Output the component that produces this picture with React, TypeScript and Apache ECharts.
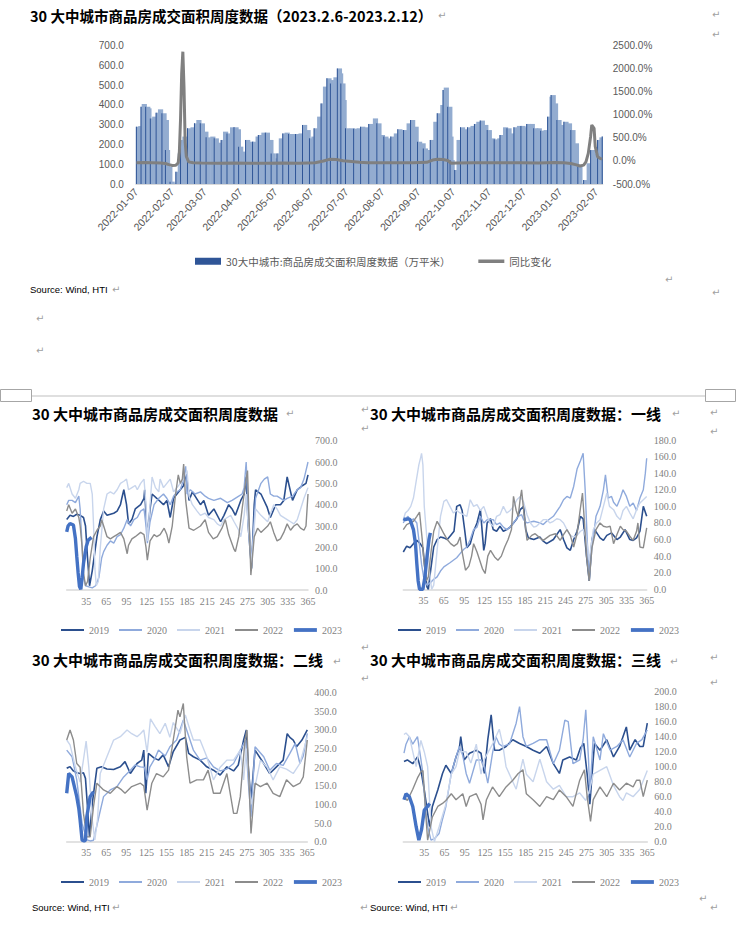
import React, { useEffect, useRef } from 'react';
import * as echarts from 'echarts';

// ---------- top chart data ----------
const START = '2022-01-07';
const END = '2023-02-12';
const BAR_NAME = '30大中城市:商品房成交面积周度数据（万平米）';
const YOY_NAME = '同比变化';
// transaction area (万平米), [days after START, value]
const areaPoints: [number, number][] = [[0,290],[2,293],[4,391],[5,405],[8,391],[9,383],[12,332],[14,341],[17,361],[19,378],[22,358],[24,324],[25,172],[27,88],[29,12],[32,3],[34,62],[36,155],[38,223],[40,240],[44,282],[47,287],[50,307],[52,324],[55,307],[58,265],[60,236],[64,240],[67,231],[70,209],[73,223],[75,265],[78,256],[81,287],[84,287],[86,277],[88,189],[91,164],[94,223],[97,214],[100,214],[103,240],[105,248],[108,260],[111,260],[114,223],[116,155],[118,130],[121,155],[123,231],[126,256],[128,260],[131,253],[134,253],[137,253],[140,256],[143,299],[146,273],[149,231],[151,240],[153,282],[156,341],[159,408],[161,493],[164,535],[166,526],[167,509],[170,540],[173,585],[174,560],[176,509],[177,425],[180,282],[184,282],[187,280],[190,282],[193,290],[196,287],[200,304],[204,332],[207,307],[210,248],[213,240],[216,231],[219,240],[222,256],[225,277],[227,273],[230,273],[233,307],[236,324],[239,290],[242,214],[245,206],[247,180],[250,172],[253,223],[256,315],[259,358],[262,400],[264,476],[265,488],[268,391],[269,240],[270,121],[272,12],[274,71],[276,223],[279,287],[282,277],[285,287],[288,294],[291,304],[293,315],[296,321],[299,299],[302,273],[305,231],[308,226],[311,231],[313,248],[316,287],[319,282],[322,256],[325,287],[328,294],[331,294],[334,287],[336,304],[339,304],[342,282],[345,282],[348,270],[351,273],[354,341],[356,442],[357,450],[359,408],[362,324],[365,299],[368,315],[371,307],[374,273],[377,206],[380,88],[382,3],[385,20],[388,105],[391,172],[394,155],[397,223],[399,236],[401,240]];
// YoY change (%), [days after START, value]
const yoyPoints: [number, number][] = [[0, -40], [7, -35], [14, -40], [21, -45], [25, -55], [28, -80], [31, -100], [34, -95], [36, -40], [37, 200], [38, 900], [39, 1900], [40, 2370], [41, 1600], [42, 400], [43, 100], [45, -20], [49, -40], [56, -45], [70, -50], [84, -45], [98, -50], [112, -50], [126, -45], [140, -50], [154, -40], [161, 0], [166, 35], [172, 30], [178, 5], [185, -10], [192, -30], [199, -40], [210, -40], [224, -38], [238, -40], [250, -30], [255, 20], [259, 35], [264, 30], [268, 10], [271, -50], [276, -45], [290, -40], [304, -40], [318, -38], [332, -40], [346, -42], [360, -35], [368, -40], [374, -55], [378, -80], [382, -110], [385, -90], [387, -20], [389, 165], [391, 527], [392, 780], [394, 708], [395, 310], [397, 92], [399, 57], [401, 40]];

// ---------- small charts ----------
const years = ['2019', '2020', '2021', '2022', '2023'];
const dayTicks = [35, 65, 95, 125, 155, 185, 215, 245, 275, 305, 335, 365];

type P = [number, number][];
// 30 cities total
const A2019: P = [[6,330],[11,350],[16,345],[21,355],[26,350],[31,340],[34,300],[37,150],[40,20],[44,90],[51,250],[56,330],[61,370],[66,350],[71,355],[76,360],[81,370],[86,400],[88,430],[91,470],[95,400],[98,310],[103,330],[108,380],[116,400],[121,430],[122,470],[124,350],[126,250],[130,380],[133,450],[140,430],[150,400],[155,420],[160,340],[165,430],[175,470],[180,490],[184,550],[188,420],[193,460],[197,440],[205,400],[210,420],[217,350],[225,380],[235,320],[240,350],[247,400],[252,380],[257,350],[265,420],[270,450],[273,530],[276,300],[281,100],[285,400],[287,470],[295,450],[304,390],[309,340],[317,400],[324,400],[329,420],[334,530],[342,420],[349,470],[357,490],[362,500],[365,540]];
const A2020: P = [[6,400],[9,420],[14,420],[19,410],[24,440],[26,380],[29,200],[31,60],[34,20],[39,15],[44,10],[49,20],[54,60],[58,150],[61,180],[66,210],[71,230],[76,220],[81,250],[86,260],[91,290],[96,330],[101,300],[106,330],[111,340],[116,370],[121,380],[124,300],[126,220],[130,320],[136,400],[143,430],[150,450],[155,430],[160,400],[165,440],[170,460],[175,470],[180,520],[183,580],[185,450],[190,470],[197,450],[205,460],[212,440],[217,430],[225,420],[235,430],[245,410],[252,420],[262,440],[267,450],[270,480],[273,600],[276,380],[281,120],[287,430],[295,500],[300,520],[305,530],[309,450],[314,440],[319,440],[329,420],[334,430],[342,440],[349,470],[354,480],[359,520],[362,560],[365,600]];
const A2021: P = [[6,480],[9,500],[14,450],[19,430],[24,470],[26,500],[31,510],[36,500],[41,500],[44,450],[46,300],[48,100],[50,20],[53,40],[56,200],[61,380],[66,450],[71,460],[76,450],[81,470],[86,500],[91,510],[95,520],[98,470],[103,480],[108,490],[111,470],[116,500],[121,520],[124,400],[126,230],[130,400],[133,530],[138,480],[143,460],[145,520],[150,480],[155,500],[160,520],[165,460],[170,480],[175,500],[180,520],[185,560],[188,440],[193,400],[200,370],[205,350],[212,360],[217,340],[225,330],[230,310],[235,300],[240,330],[245,340],[250,350],[255,320],[262,280],[265,250],[270,350],[273,450],[276,300],[281,120],[287,380],[295,350],[305,320],[314,400],[319,380],[324,350],[334,330],[339,320],[344,310],[349,330],[354,380],[359,430],[365,480]];
const A2022: P = [[6,370],[9,400],[14,360],[19,380],[24,340],[26,300],[29,200],[31,80],[34,20],[37,40],[41,150],[46,250],[51,280],[56,300],[58,330],[61,300],[66,250],[71,240],[76,250],[81,260],[86,270],[91,240],[96,170],[98,210],[103,240],[108,250],[116,270],[121,260],[124,200],[126,140],[130,230],[136,260],[140,250],[145,260],[151,290],[155,260],[158,220],[163,300],[168,450],[172,540],[175,500],[178,520],[180,590],[183,420],[188,290],[195,280],[205,300],[212,330],[217,270],[224,240],[230,250],[237,290],[242,330],[247,260],[255,190],[257,180],[262,250],[267,380],[272,500],[275,560],[280,70],[285,250],[290,290],[295,270],[305,300],[309,320],[314,270],[319,230],[324,240],[329,270],[334,310],[339,280],[344,300],[349,310],[354,290],[359,280],[362,300],[365,450]];
const A2023: P = [[6,273],[8,300],[11,312],[16,305],[19,240],[21,156],[23,80],[25,16],[27,3],[29,60],[31,125],[35,203],[38,234],[43,247]];

// first-tier cities
const B2019: P = [[5,45],[10,52],[15,50],[20,55],[25,59],[30,55],[34,50],[37,25],[40,3],[42,0],[45,20],[50,51],[55,60],[60,63],[65,62],[70,60],[75,65],[80,70],[84,100],[89,102],[92,95],[96,70],[99,50],[104,55],[109,70],[114,80],[119,96],[124,47],[126,55],[129,80],[134,85],[138,72],[143,70],[148,76],[153,70],[158,72],[163,75],[168,80],[173,85],[178,96],[183,100],[186,72],[190,62],[198,60],[207,63],[212,58],[217,55],[227,60],[237,72],[242,60],[247,50],[252,47],[257,60],[262,70],[267,88],[271,85],[276,40],[280,10],[284,60],[288,72],[296,62],[301,59],[306,65],[313,68],[321,60],[326,63],[333,72],[340,60],[345,59],[350,62],[355,70],[360,100],[365,88]];
const B2020: P = [[5,80],[8,85],[12,88],[16,82],[20,85],[25,80],[28,60],[32,30],[36,10],[40,5],[45,8],[50,12],[55,15],[60,22],[65,27],[74,32],[79,35],[84,38],[89,43],[94,48],[99,51],[104,60],[109,72],[114,75],[119,88],[124,80],[129,84],[138,84],[143,78],[148,80],[153,75],[158,72],[163,75],[168,80],[175,88],[180,90],[183,84],[188,80],[198,82],[207,80],[212,78],[217,82],[227,88],[237,100],[242,108],[247,112],[252,110],[257,124],[262,145],[267,155],[271,164],[274,120],[277,60],[280,11],[284,50],[290,88],[296,100],[301,120],[304,138],[308,110],[313,112],[316,105],[321,100],[326,110],[330,120],[335,112],[340,100],[345,104],[350,95],[355,110],[360,120],[363,140],[365,158]];
const B2021: P = [[5,84],[8,92],[12,95],[16,100],[20,110],[24,130],[28,150],[31,160],[32,164],[34,150],[36,100],[40,60],[44,19],[47,0],[50,5],[55,47],[60,88],[65,106],[69,108],[74,100],[79,92],[84,95],[89,92],[94,90],[99,88],[104,108],[109,100],[114,102],[119,95],[124,100],[129,88],[133,80],[138,76],[143,88],[148,90],[153,100],[158,92],[163,95],[168,100],[173,108],[178,112],[183,105],[188,90],[193,80],[198,75],[202,76],[207,80],[212,84],[217,84],[222,80],[227,82],[232,85],[237,84],[242,80],[247,72],[252,65],[257,63],[262,65],[267,70],[271,72],[276,60],[280,35],[286,72],[291,80],[296,84],[301,100],[306,116],[310,100],[316,96],[321,88],[326,84],[330,95],[335,100],[340,92],[345,85],[350,96],[355,104],[360,108],[365,112]];
const B2022: P = [[5,72],[10,78],[15,80],[20,82],[25,88],[29,93],[33,60],[36,30],[39,10],[42,15],[46,45],[50,70],[55,82],[60,75],[65,67],[70,60],[75,55],[80,52],[85,55],[89,63],[92,45],[97,23],[102,28],[106,40],[109,55],[114,45],[118,35],[122,25],[126,19],[130,40],[134,47],[140,39],[145,35],[150,40],[155,51],[160,60],[165,72],[168,112],[172,95],[175,88],[178,110],[180,120],[183,95],[188,59],[195,65],[200,67],[207,62],[212,59],[222,65],[230,67],[237,59],[242,66],[247,72],[252,65],[257,51],[262,67],[266,92],[270,116],[273,80],[276,40],[280,10],[284,50],[290,72],[296,80],[301,76],[306,75],[311,76],[316,55],[321,66],[326,76],[330,72],[335,70],[340,64],[345,59],[350,70],[352,80],[355,51],[360,50],[365,74]];
const B2023: P = [[5,85],[8,84],[12,85],[15,84],[20,72],[23,55],[25,31],[27,10],[29,0],[32,0],[34,0],[37,15],[40,39],[43,60],[45,68]];

// second-tier cities
const C2019: P = [[6,197],[9,200],[11,201],[16,190],[21,185],[26,183],[31,185],[34,170],[37,94],[40,13],[44,100],[51,197],[58,201],[66,195],[76,194],[86,201],[93,215],[101,183],[111,210],[118,219],[121,246],[124,130],[128,237],[136,225],[143,219],[150,233],[158,201],[165,242],[175,273],[183,280],[188,237],[195,228],[205,219],[215,201],[225,192],[235,179],[245,201],[255,190],[262,206],[270,273],[274,300],[277,200],[281,110],[287,246],[300,210],[309,183],[319,201],[329,219],[335,290],[339,280],[344,273],[349,255],[357,273],[365,300]];
const C2020: P = [[6,246],[14,228],[21,166],[29,49],[36,5],[41,2],[46,4],[54,67],[61,121],[71,139],[81,148],[91,174],[101,192],[108,206],[116,201],[122,200],[126,166],[130,200],[138,225],[143,246],[153,230],[160,255],[170,273],[180,327],[185,300],[195,246],[205,219],[215,225],[225,201],[235,190],[245,195],[255,210],[265,246],[273,273],[277,160],[281,67],[287,255],[300,228],[309,192],[319,210],[329,205],[339,237],[347,264],[354,210],[359,230],[365,291]];
const C2021: P = [[6,273],[11,260],[19,201],[26,160],[31,220],[35,270],[39,200],[44,60],[48,5],[52,60],[56,183],[66,228],[76,273],[86,282],[96,300],[103,290],[111,282],[116,290],[121,300],[126,240],[131,330],[138,309],[145,290],[153,318],[160,280],[165,320],[175,290],[183,340],[190,300],[195,273],[205,273],[215,228],[225,166],[235,200],[245,219],[255,219],[265,246],[270,166],[274,250],[281,100],[287,148],[295,219],[305,200],[314,166],[324,201],[334,195],[344,183],[354,210],[365,282]];
const C2022: P = [[6,273],[11,300],[16,273],[21,210],[26,200],[31,76],[36,13],[41,13],[46,94],[51,157],[61,139],[71,130],[81,148],[88,139],[93,130],[103,148],[116,157],[121,150],[126,85],[133,157],[140,183],[150,174],[158,192],[165,273],[172,353],[175,335],[180,371],[185,228],[190,157],[200,166],[210,166],[217,192],[225,130],[235,130],[245,183],[255,76],[260,76],[265,121],[272,273],[275,300],[281,22],[287,157],[295,148],[305,157],[314,130],[324,121],[334,166],[344,148],[354,157],[359,174],[365,273]];
const C2023: P = [[6,130],[9,183],[14,174],[21,121],[24,90],[26,58],[29,4],[32,2],[34,4],[36,67],[41,121],[46,134]];

// third-tier cities
const D2019: P = [[5,107],[10,109],[18,104],[25,113],[30,96],[35,69],[40,38],[43,20],[47,47],[55,69],[62,91],[67,102],[75,91],[82,113],[87,125],[89,140],[92,120],[94,109],[102,118],[112,122],[119,118],[122,100],[124,91],[129,136],[134,169],[139,122],[146,122],[156,127],[166,136],[176,131],[186,127],[196,122],[206,118],[216,127],[226,104],[235,91],[240,109],[250,113],[260,109],[266,125],[271,131],[276,90],[280,50],[285,110],[287,131],[295,122],[305,136],[315,113],[324,127],[329,140],[334,153],[339,122],[347,136],[354,127],[359,127],[365,158]];
const D2020: P = [[5,118],[8,130],[13,140],[18,130],[25,140],[30,110],[33,91],[37,40],[40,20],[45,2],[50,4],[57,11],[62,30],[67,47],[75,91],[82,113],[87,127],[92,115],[97,91],[102,78],[112,109],[119,109],[124,100],[129,78],[136,118],[141,140],[146,130],[151,127],[161,130],[171,158],[176,180],[181,140],[186,127],[196,131],[206,136],[216,136],[226,104],[235,122],[243,162],[248,160],[255,104],[265,109],[270,136],[274,176],[278,110],[280,64],[285,140],[295,109],[300,144],[310,122],[320,127],[329,136],[339,113],[349,131],[357,136],[365,149]];
const D2021: P = [[5,143],[8,145],[13,140],[18,120],[23,100],[27,120],[30,135],[35,120],[40,100],[45,20],[50,0],[57,20],[67,50],[75,90],[82,100],[87,120],[97,120],[104,105],[112,130],[119,90],[124,110],[136,130],[146,150],[151,130],[156,100],[166,80],[171,70],[176,90],[181,110],[186,90],[196,80],[206,110],[216,80],[226,70],[235,75],[245,60],[255,60],[265,65],[274,55],[280,70],[285,90],[295,95],[305,100],[315,75],[324,60],[329,55],[334,65],[344,60],[354,70],[365,95]];
const D2022: P = [[5,60],[10,55],[18,70],[25,85],[30,93],[33,95],[35,69],[37,40],[40,2],[43,15],[47,33],[55,47],[62,51],[67,55],[75,64],[82,56],[87,60],[92,64],[97,47],[102,60],[112,64],[119,50],[122,29],[127,56],[136,73],[146,60],[156,73],[166,82],[174,91],[181,96],[186,64],[196,56],[206,47],[216,60],[226,56],[235,69],[245,60],[255,47],[265,82],[272,96],[276,60],[281,27],[285,56],[295,73],[305,60],[315,78],[324,69],[334,78],[344,73],[349,82],[354,82],[359,60],[365,82]];
const D2023: P = [[5,56],[8,64],[13,60],[18,47],[23,20],[27,2],[31,16],[35,42],[40,47],[43,51]];

const yearColors = ['#2B4F8E', '#8FAADC', '#C8D5EC', '#8C8C8C', '#4472C4'];
const yearWidths = [1.6, 1.4, 1.4, 1.4, 3.4];
const legendWidths = [2, 2, 2, 2, 3.8];

function addDays(s: string, n: number): string {
  const d = new Date(s + 'T00:00:00Z');
  d.setUTCDate(d.getUTCDate() + n);
  return d.toISOString().slice(0, 10);
}
function dayList(a: string, b: string): string[] {
  const out: string[] = [];
  let cur = a;
  while (cur <= b) { out.push(cur); cur = addDays(cur, 1); }
  return out;
}

export default function App() {
  const ref = useRef<HTMLDivElement>(null);
  useEffect(() => {
    document.body.style.margin = '0';
    if (!ref.current) return;
    const chart = echarts.init(ref.current, null, { renderer: 'svg' });
    const days = dayList(START, END);
    const barPairs = areaPoints.map(([o, v]) => [addDays(START, o), v]);
    const stripePairs = barPairs.filter((_, i) => i % 2 === 0);
    const yoyPairs = yoyPoints.map(([o, v]) => [addDays(START, o), v]);

    const panels = [
      { title: '30 大中城市商品房成交面积周度数据', tx: 32, ty: 413, grid: { left: 66.7, top: 440.7, width: 241.3, height: 149.3 }, xmin: 6, ymax: 700, yint: 100, lx: 60, ly: 631, data: [A2019, A2020, A2021, A2022, A2023] },
      { title: '30 大中城市商品房成交面积周度数据：一线', tx: 370, ty: 413, grid: { left: 403.3, top: 440, width: 243.4, height: 149.3 }, xmin: 5, ymax: 180, yint: 20, lx: 397, ly: 631, data: [B2019, B2020, B2021, B2022, B2023] },
      { title: '30 大中城市商品房成交面积周度数据：二线', tx: 32, ty: 659, grid: { left: 66.7, top: 692.7, width: 240.6, height: 149 }, xmin: 6, ymax: 400, yint: 50, lx: 60, ly: 883, data: [C2019, C2020, C2021, C2022, C2023] },
      { title: '30 大中城市商品房成交面积周度数据：三线', tx: 370, ty: 659, grid: { left: 403.3, top: 691.7, width: 244, height: 150 }, xmin: 4, ymax: 200, yint: 20, lx: 397, ly: 883, data: [D2019, D2020, D2021, D2022, D2023] },
    ];

    const grids: any[] = [{ left: 135.8, top: 45.7, width: 467, height: 138.3, outerBoundsMode: 'none' }];
    const xAxes: any[] = [{
      type: 'category', gridIndex: 0, data: days, boundaryGap: true,
      axisLine: { lineStyle: { color: '#D9D9D9' } }, axisTick: { show: false },
      axisLabel: { interval: (_i: number, v: string) => v.slice(8) === '07', rotate: 47, fontFamily: 'Liberation Sans', fontSize: 10.5, color: '#595959', margin: 6 },
    }];
    const yAxes: any[] = [
      { type: 'value', gridIndex: 0, min: 0, max: 700, interval: 100, splitLine: { show: false }, axisLine: { show: false }, axisTick: { show: false },
        axisLabel: { formatter: (v: number) => v.toFixed(1), fontFamily: 'Liberation Sans', fontSize: 10, color: '#595959', margin: 12 } },
      { type: 'value', gridIndex: 0, position: 'right', min: -500, max: 2500, interval: 500, splitLine: { show: false }, axisLine: { show: false }, axisTick: { show: false },
        axisLabel: { formatter: (v: number) => v.toFixed(1) + '%', fontFamily: 'Liberation Sans', fontSize: 10, color: '#595959', margin: 10 } },
    ];
    const series: any[] = [
      { name: 'fill', type: 'bar', xAxisIndex: 0, yAxisIndex: 0, data: barPairs, barWidth: 5.2, barGap: '-100%', itemStyle: { color: '#93ACD0' }, silent: true },
      { name: BAR_NAME, type: 'bar', xAxisIndex: 0, yAxisIndex: 0, data: stripePairs, barWidth: 1, barGap: '-100%', itemStyle: { color: '#2F5597' } },
      { name: YOY_NAME, type: 'line', xAxisIndex: 0, yAxisIndex: 1, data: yoyPairs, symbol: 'none', lineStyle: { color: '#808080', width: 3 }, itemStyle: { color: '#808080' }, z: 5 },
    ];
    const legends: any[] = [{
      data: [{ name: BAR_NAME, icon: 'rect' }, { name: YOY_NAME, itemStyle: { opacity: 0 }, lineStyle: { width: 3.5 } }], left: 195, top: 256, padding: 0,
      itemWidth: 26, itemHeight: 7, itemGap: 26, textStyle: { fontFamily: 'Noto Sans CJK SC', fontSize: 10.5, color: '#595959' },
    }];

    const g: any[] = [];
    const txt = (x: number, y: number, text: string, font: string, fill: string) => {
      g.push({ type: 'text', x, y, silent: true, style: { text, font, fill, align: 'left', verticalAlign: 'middle', textAlign: 'left', textVerticalAlign: 'middle' } });
    };
    const titleFont = 'bold 15px "Noto Sans CJK SC"';
    txt(30, 15, '30 大中城市商品房成交面积周度数据（2023.2.6-2023.2.12）', 'bold 14.5px "Noto Sans CJK SC"', '#000');
    const srcFont = '9.5px "Liberation Sans"';
    txt(30, 289, 'Source: Wind, HTI', srcFont, '#000');
    txt(32, 907, 'Source: Wind, HTI', srcFont, '#000');
    txt(370, 907, 'Source: Wind, HTI', srcFont, '#000');

    panels.forEach((p, i) => {
      const gi = i + 1;
      grids.push({ ...p.grid, outerBoundsMode: 'none' });
      xAxes.push({
        type: 'value', gridIndex: gi, min: p.xmin, max: 365,
        axisLine: { show: true, onZero: false, lineStyle: { color: '#D9D9D9', width: 1.5 } }, axisTick: { show: false }, splitLine: { show: false },
        axisLabel: { customValues: dayTicks, fontFamily: 'Liberation Serif', fontSize: 10, color: '#7F7F7F', margin: 6 },
      });
      yAxes.push({
        type: 'value', gridIndex: gi, position: 'right', min: 0, max: p.ymax, interval: p.yint,
        axisLine: { show: false }, axisTick: { show: false }, splitLine: { show: false },
        axisLabel: { formatter: (v: number) => v.toFixed(1), fontFamily: 'Liberation Serif', fontSize: 10, color: '#7F7F7F', margin: 7 },
      });
      p.data.forEach((d, k) => {
        series.push({
          name: years[k], type: 'line', xAxisIndex: gi, yAxisIndex: gi + 1, data: d, symbol: 'none',
          lineStyle: { color: yearColors[k], width: yearWidths[k] }, itemStyle: { color: yearColors[k] }, z: 2 + k,
        });
      });
      legends.push({
        data: years.map((y, k) => ({ name: y, itemStyle: { opacity: 0 }, lineStyle: { width: legendWidths[k], color: yearColors[k] } })),
        left: p.lx, top: p.ly - 6, padding: 0, itemWidth: 23, itemHeight: 10, itemGap: 9,
        textStyle: { fontFamily: 'Liberation Serif', fontSize: 10, color: '#7F7F7F' },
      });
      txt(p.tx, p.ty, p.title, titleFont, '#000');
    });

    // paragraph marks
    const marks = [[438, 15], [712, 14], [712, 34], [112, 289], [665, 279], [712, 292], [36, 318], [36, 350], [286, 413], [361, 409], [361, 428], [672, 413], [710, 412], [710, 431], [333, 661], [361, 647], [361, 678], [112, 907], [670, 661], [710, 657], [710, 682], [360, 907], [450, 907], [710, 907], [699, 898]];
    marks.forEach(([x, y]) => txt(x, y, '↵', '10px "DejaVu Sans"', '#A0A0A0'));

    // section break
    g.push({ type: 'line', silent: true, shape: { x1: 31, y1: 396, x2: 705, y2: 396 }, style: { stroke: '#BFBFBF', lineWidth: 1 } });
    g.push({ type: 'rect', silent: true, shape: { x: 0.5, y: 389.5, width: 31, height: 12 }, style: { fill: 'none', stroke: '#A6A6A6', lineWidth: 1 } });
    g.push({ type: 'rect', silent: true, shape: { x: 705.5, y: 389.5, width: 30, height: 12 }, style: { fill: 'none', stroke: '#A6A6A6', lineWidth: 1 } });

    chart.setOption({
      animation: false,
      backgroundColor: '#ffffff',
      grid: grids,
      xAxis: xAxes,
      yAxis: yAxes,
      legend: legends,
      series,
      graphic: { elements: g },
    });
    return () => chart.dispose();
  }, []);
  return <div ref={ref} style={{ width: 736, height: 927 }} />;
}
